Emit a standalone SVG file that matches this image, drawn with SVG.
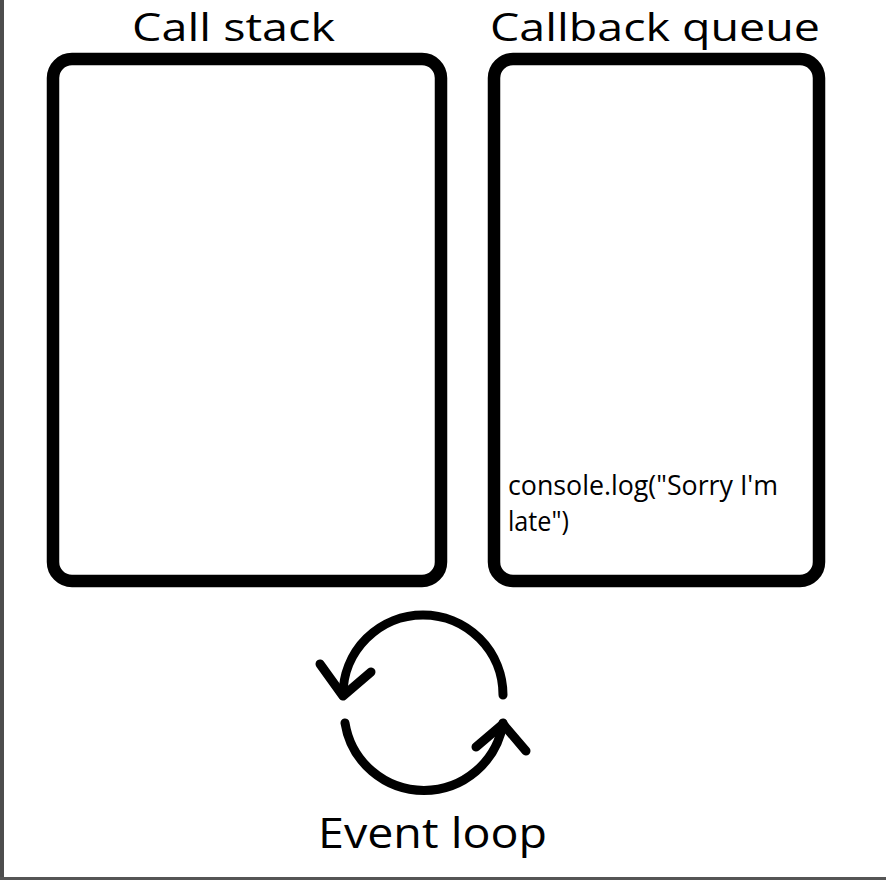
<svg xmlns="http://www.w3.org/2000/svg" width="886" height="880" viewBox="0 0 886 880">
<style>
.box{fill:#fff;stroke:#000;stroke-width:12.5}
.t{font-family:"Open Sans","Noto Sans","Liberation Sans",sans-serif;fill:#000}
.loop{fill:none;stroke:#000;stroke-width:9;stroke-linecap:round;stroke-linejoin:round}
</style>
<rect x="0" y="0" width="886" height="880" fill="#fff"/>
<rect x="0" y="0" width="4" height="880" fill="#4d4d4d"/>
<rect x="0" y="877" width="886" height="3" fill="#555"/>
<g id="call-stack">
<rect class="box" x="53" y="59" width="388" height="522" rx="19"/>
<text class="t" x="132" y="41" font-size="38.5" textLength="203" lengthAdjust="spacingAndGlyphs">Call stack</text>
</g>
<g id="callback-queue">
<rect class="box" x="494" y="59" width="325" height="522" rx="19"/>
<text class="t" x="490" y="41" font-size="38.5" textLength="330" lengthAdjust="spacingAndGlyphs">Callback queue</text>
<text class="t" x="508" y="495" font-size="27" textLength="270" lengthAdjust="spacingAndGlyphs">console.log("Sorry I'm</text>
<text class="t" x="508" y="531" font-size="27" textLength="61" lengthAdjust="spacingAndGlyphs">late")</text>
</g>
<g id="event-loop">
<text class="t" x="318" y="848" font-size="42" textLength="229" lengthAdjust="spacingAndGlyphs">Event loop</text>
</g>
<g id="connectors">
<path class="loop" d="M 503 695 A 80 80 0 0 0 343 695"/>
<polyline class="loop" points="320,664 343,696 371,672"/>
<path class="loop" d="M 345 723 A 80 80 0 0 0 503 723"/>
<polyline class="loop" points="476,747 503,724 526,751"/>
</g>
</svg>
